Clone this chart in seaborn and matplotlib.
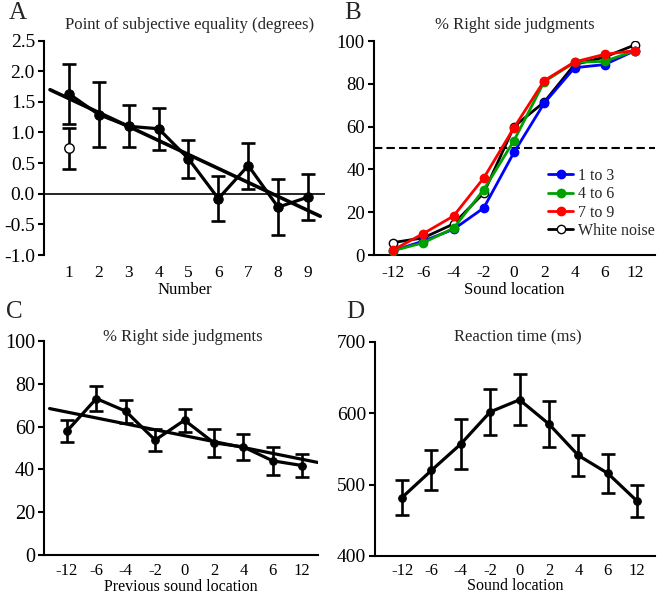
import numpy as np
import pandas as pd
import matplotlib
matplotlib.use("Agg")
import matplotlib.pyplot as plt
import seaborn as sns

# ---------------- data ----------------
numbers = [1, 2, 3, 4, 5, 6, 7, 8, 9]
pse_mean = [1.63, 1.29, 1.10, 1.06, 0.57, -0.08, 0.46, -0.22, -0.055]
pse_err = [0.49, 0.53, 0.34, 0.34, 0.31, 0.365, 0.375, 0.455, 0.38]
white_noise_pse = 0.74
white_noise_pse_err = 0.34

sound_locations = ["-12", "-6", "-4", "-2", "0", "2", "4", "6", "12"]
right_1to3 = [2.0, 6.5, 12.0, 22.0, 48.0, 71.0, 87.5, 89.0, 95.5]
right_4to6 = [2.0, 5.7, 12.5, 30.5, 53.5, 81.0, 90.0, 90.5, 95.5]
right_7to9 = [2.3, 10.0, 18.2, 36.0, 59.5, 81.5, 90.2, 93.8, 95.5]
right_white = [5.8, 8.0, 14.5, 29.0, 60.0, 71.5, 89.0, 92.5, 98.2]
group_labels = ["1 to 3", "4 to 6", "7 to 9", "White noise"]
group_colors = ["#0000ff", "#00a000", "#ff0000", "#000000"]

prev_right_mean = [57.9, 73.1, 67.2, 53.7, 63.0, 52.4, 50.5, 44.0, 41.8]
prev_right_err = [5.3, 5.9, 5.4, 5.0, 5.3, 6.7, 6.0, 6.7, 5.2]
prev_trend_intercept = 66.8   # value of the drawn trend line at the first category
prev_trend_slope = -2.76      # change per category step

rt_mean = [482.0, 520.0, 557.0, 602.0, 619.0, 585.0, 541.0, 516.0, 477.0]
rt_err = [24.0, 28.0, 34.5, 32.0, 36.0, 32.0, 29.0, 27.0, 22.0]

# ---------------- style ----------------
sns.set_theme(style="ticks")
plt.rcParams["font.family"] = ["Liberation Serif", "DejaVu Serif"]
plt.rcParams["axes.linewidth"] = 1.5

W, H = 660, 594
fig = plt.figure(figsize=(W / 100, H / 100), dpi=100)
fig.patch.set_facecolor("white")


def px_axes(left, top, right, bottom):
    return fig.add_axes([left / W, 1 - bottom / H, (right - left) / W, (bottom - top) / H])


XT = 12.5
TT = 12
LT = 12


def style_axes(ax, ysize, bottom_spine=True, xpad=7, xsize=XT):
    sns.despine(ax=ax, top=True, right=True, bottom=not bottom_spine)
    ax.set_facecolor("white")
    ax.grid(False)
    ax.tick_params(axis="y", direction="out", length=4.5, width=1.5, labelsize=ysize, pad=2, colors="black")
    ax.tick_params(axis="x", length=0, labelsize=xsize, pad=xpad, colors="black")
    for s in ax.spines.values():
        s.set_color("black")
        s.set_linewidth(1.5)


def errbars(ax, x, y, e, lw=1.9, cap=5.2):
    ax.errorbar(x, y, yerr=e, fmt="none", ecolor="black", elinewidth=lw,
                capsize=cap, capthick=lw, zorder=3)


# ---------------- Panel A ----------------
axA = px_axes(44, 40.5, 325, 255)
dfA = pd.DataFrame({"number": numbers, "pse": pse_mean})
errbars(axA, numbers, pse_mean, pse_err)
errbars(axA, [numbers[0]], [white_noise_pse], [white_noise_pse_err])
sns.lineplot(data=dfA, x="number", y="pse", ax=axA, color="black", lw=2.3,
             marker="o", markersize=6.8, markeredgecolor="black", zorder=4)
axA.plot([numbers[0]], [white_noise_pse], marker="o", ls="none", markersize=6.8,
         markerfacecolor="white", markeredgecolor="black", markeredgewidth=1.0, zorder=5)
slope, intercept = np.polyfit(numbers, pse_mean, 1)
xr = np.array([0.365, 9.41])
axA.plot(xr, intercept + slope * xr, color="black", lw=2.6, zorder=4)
axA.axhline(0, color="black", lw=1.2, zorder=2)
axA.set_xlim(0.163, 9.57)
axA.set_ylim(-1.0, 2.5)
yt = np.arange(-1.0, 2.51, 0.5)
axA.set_yticks(yt)
axA.set_yticklabels([f"{v:.1f}" for v in yt])
axA.set_xticks(numbers)
axA.set_xticklabels([str(n) for n in numbers])
style_axes(axA, 14, bottom_spine=False)
axA.set_xlabel("Number", fontsize=LT, labelpad=1, color="black")
axA.set_ylabel("")
fig.text(190 / W, 1 - 25 / H, "Point of subjective equality (degrees)", ha="center", va="center", fontsize=TT)

# ---------------- Panel B ----------------
axB = px_axes(374, 41, 655, 255)
pos = np.arange(len(sound_locations))
series = [right_1to3, right_4to6, right_7to9, right_white]
zords = [4, 5, 6, 3]
for vals, lab, col, z in zip(series, group_labels, group_colors, zords):
    dfB = pd.DataFrame({"loc": pos, "pct": vals})
    face = "white" if lab == "White noise" else col
    sns.lineplot(data=dfB, x="loc", y="pct", ax=axB, color=col, lw=2.0, marker="o",
                 markersize=6, markerfacecolor=face, markeredgecolor=col,
                 markeredgewidth=1.0, zorder=z, label=lab)
axB.axhline(50, color="black", lw=1.5, dashes=(4, 2), zorder=2)
axB.set_xlim(-0.628, 8.66)
axB.set_ylim(0, 100)
axB.set_yticks([0, 20, 40, 60, 80, 100])
axB.set_xticks(pos)
axB.set_xticklabels(sound_locations)
style_axes(axB, 13.5)
axB.set_xlabel("Sound location", fontsize=LT, labelpad=1, color="black")
axB.set_ylabel("")
leg = axB.legend(loc="lower right", bbox_to_anchor=(1.0, 0.075), frameon=False,
                 fontsize=11.5, handlelength=1.6, handletextpad=0.3, labelspacing=0.15,
                 borderpad=0, borderaxespad=0)
fig.text(515 / W, 1 - 25 / H, "% Right side judgments", ha="center", va="center", fontsize=TT)

# ---------------- Panel C ----------------
axC = px_axes(44, 341, 318, 555)
dfC = pd.DataFrame({"loc": pos, "pct": prev_right_mean})
errbars(axC, pos, prev_right_mean, prev_right_err)
sns.lineplot(data=dfC, x="loc", y="pct", ax=axC, color="black", lw=2.3, marker="o",
             markersize=5.5, markeredgecolor="black", zorder=4)
xr = np.array([-0.59, 8.53])
axC.plot(xr, prev_trend_intercept + prev_trend_slope * xr, color="black", lw=2.3, zorder=4)
axC.set_xlim(-0.78, 8.54)
axC.set_ylim(0, 100)
axC.set_yticks([0, 20, 40, 60, 80, 100])
axC.set_xticks(pos)
axC.set_xticklabels(sound_locations)
style_axes(axC, 14.5, xpad=5.5, xsize=12)
axC.set_xlabel("Previous sound location", fontsize=11.5, labelpad=0, color="black")
axC.set_ylabel("")
fig.text(182.5 / W, 1 - 336.7 / H, "% Right side judgments", ha="center", va="center", fontsize=TT)

# ---------------- Panel D ----------------
axD = px_axes(375, 342, 655, 556)
dfD = pd.DataFrame({"loc": pos, "rt": rt_mean})
errbars(axD, pos, rt_mean, rt_err)
sns.lineplot(data=dfD, x="loc", y="rt", ax=axD, color="black", lw=2.3, marker="o",
             markersize=5.5, markeredgecolor="black", zorder=4)
axD.set_xlim(-0.92, 8.61)
axD.set_ylim(400, 700)
axD.set_yticks([400, 500, 600, 700])
axD.set_xticks(pos)
axD.set_xticklabels(sound_locations)
style_axes(axD, 14, xpad=5, xsize=12)
axD.set_xlabel("Sound location", fontsize=11.5, labelpad=-0.5, color="black")
axD.set_ylabel("")
fig.text(518 / W, 1 - 337.5 / H, "Reaction time (ms)", ha="center", va="center", fontsize=TT)

# ---------------- panel letters ----------------
for lx, ly, t in [(9, 19, "A"), (344, 19, "B"), (6, 318, "C"), (346, 318, "D")]:
    fig.text(lx / W, 1 - ly / H, t, ha="left", va="baseline", fontsize=18)

fig.savefig("out.png", dpi=100, facecolor="white")
